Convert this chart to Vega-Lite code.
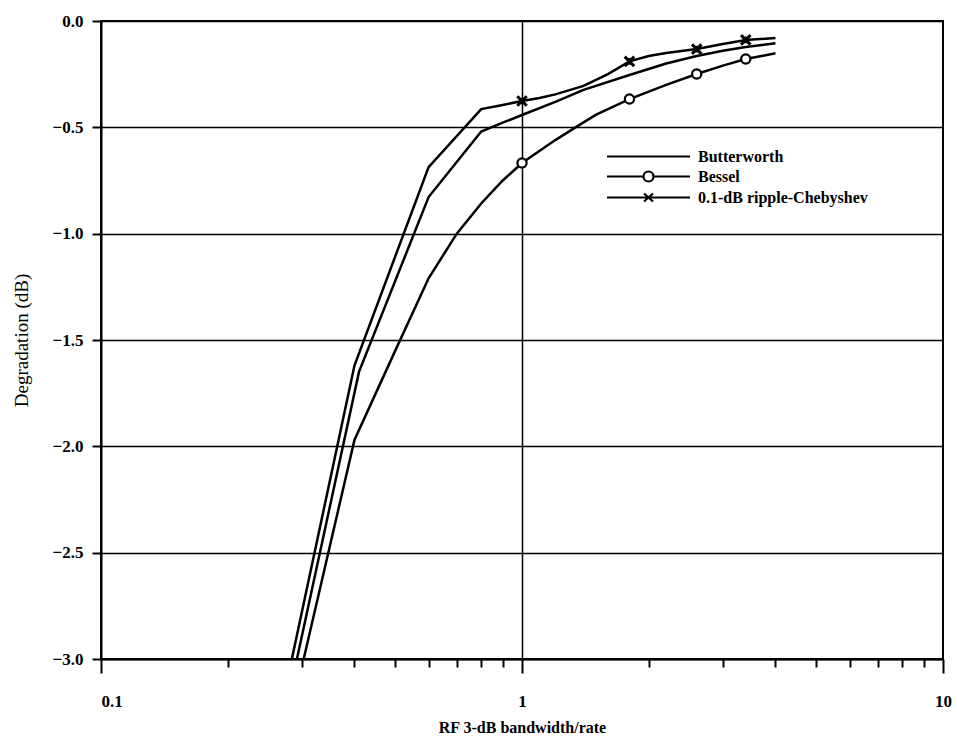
{
  "$schema": "https://vega.github.io/schema/vega-lite/v6.json",
  "width": 842,
  "height": 638,
  "autosize": {"type": "none"},
  "padding": {"left": 101, "top": 21, "right": 14, "bottom": 83},
  "background": "white",
  "datasets": {
    "curves": [
      {"series": "Butterworth", "x": 0.292, "y": -3.0},
      {"series": "Butterworth", "x": 0.41, "y": -1.65},
      {"series": "Butterworth", "x": 0.6, "y": -0.828},
      {"series": "Butterworth", "x": 0.8, "y": -0.52},
      {"series": "Butterworth", "x": 0.9, "y": -0.478},
      {"series": "Butterworth", "x": 1.0, "y": -0.442},
      {"series": "Butterworth", "x": 1.2, "y": -0.38},
      {"series": "Butterworth", "x": 1.4, "y": -0.324},
      {"series": "Butterworth", "x": 1.8, "y": -0.254},
      {"series": "Butterworth", "x": 2.2, "y": -0.2},
      {"series": "Butterworth", "x": 2.6, "y": -0.165},
      {"series": "Butterworth", "x": 3.0, "y": -0.14},
      {"series": "Butterworth", "x": 3.4, "y": -0.122},
      {"series": "Butterworth", "x": 4.0, "y": -0.105},
      {"series": "Bessel", "x": 0.303, "y": -3.0},
      {"series": "Bessel", "x": 0.4, "y": -1.97},
      {"series": "Bessel", "x": 0.5, "y": -1.55},
      {"series": "Bessel", "x": 0.6, "y": -1.21},
      {"series": "Bessel", "x": 0.7, "y": -1.0},
      {"series": "Bessel", "x": 0.8, "y": -0.858},
      {"series": "Bessel", "x": 0.9, "y": -0.75},
      {"series": "Bessel", "x": 1.0, "y": -0.668},
      {"series": "Bessel", "x": 1.2, "y": -0.56},
      {"series": "Bessel", "x": 1.34, "y": -0.5},
      {"series": "Bessel", "x": 1.5, "y": -0.44},
      {"series": "Bessel", "x": 1.8, "y": -0.367},
      {"series": "Bessel", "x": 2.2, "y": -0.3},
      {"series": "Bessel", "x": 2.6, "y": -0.249},
      {"series": "Bessel", "x": 3.0, "y": -0.21},
      {"series": "Bessel", "x": 3.4, "y": -0.179},
      {"series": "Bessel", "x": 4.0, "y": -0.152},
      {"series": "0.1-dB ripple-Chebyshev", "x": 0.284, "y": -3.0},
      {"series": "0.1-dB ripple-Chebyshev", "x": 0.4, "y": -1.62},
      {"series": "0.1-dB ripple-Chebyshev", "x": 0.6, "y": -0.687},
      {"series": "0.1-dB ripple-Chebyshev", "x": 0.8, "y": -0.414},
      {"series": "0.1-dB ripple-Chebyshev", "x": 0.9, "y": -0.395},
      {"series": "0.1-dB ripple-Chebyshev", "x": 1.0, "y": -0.376},
      {"series": "0.1-dB ripple-Chebyshev", "x": 1.1, "y": -0.362},
      {"series": "0.1-dB ripple-Chebyshev", "x": 1.2, "y": -0.345},
      {"series": "0.1-dB ripple-Chebyshev", "x": 1.4, "y": -0.305},
      {"series": "0.1-dB ripple-Chebyshev", "x": 1.6, "y": -0.25},
      {"series": "0.1-dB ripple-Chebyshev", "x": 1.8, "y": -0.19},
      {"series": "0.1-dB ripple-Chebyshev", "x": 2.0, "y": -0.165},
      {"series": "0.1-dB ripple-Chebyshev", "x": 2.2, "y": -0.15},
      {"series": "0.1-dB ripple-Chebyshev", "x": 2.6, "y": -0.132},
      {"series": "0.1-dB ripple-Chebyshev", "x": 3.0, "y": -0.108},
      {"series": "0.1-dB ripple-Chebyshev", "x": 3.4, "y": -0.089},
      {"series": "0.1-dB ripple-Chebyshev", "x": 4.0, "y": -0.08}
    ]
  },
  "data": {"name": "curves"},
  "encoding": {
    "x": {
      "field": "x",
      "type": "quantitative",
      "scale": {"type": "log", "domain": [0.1, 10], "nice": false},
      "axis": {
        "title": "RF 3-dB bandwidth/rate",
        "values": [0.1, 0.2, 0.3, 0.4, 0.5, 0.6, 0.7, 0.8, 0.9, 1, 2, 3, 4, 5, 6, 7, 8, 9, 10],
        "labelExpr": "datum.value == 0.1 ? '0.1' : datum.value == 1 ? '1' : datum.value == 10 ? '10' : ''",
        "labelOverlap": false,
        "labelFlush": false,
        "labelAlign": {"condition": {"test": "datum.value == 0.1", "value": "left"}, "value": "center"},
        "tickSize": {"condition": {"test": "datum.value == 0.1 || datum.value == 1 || datum.value == 10", "value": 14}, "value": 8},
        "labelPadding": 20,
        "labelFontSize": 17,
        "labelFontWeight": "bold",
        "titleFontSize": 16,
        "titleFontWeight": "bold",
        "titlePadding": 10,
        "grid": true,
        "gridOpacity": {"condition": {"test": "datum.value == 1", "value": 1}, "value": 0}
      }
    },
    "y": {
      "field": "y",
      "type": "quantitative",
      "scale": {"domain": [-3, 0], "nice": false},
      "axis": {
        "title": "Degradation (dB)",
        "values": [-3, -2.5, -2, -1.5, -1, -0.5, 0],
        "format": ".1f",
        "tickSize": 9,
        "labelPadding": 9,
        "labelFontSize": 17,
        "labelFontWeight": "bold",
        "titleFontSize": 19,
        "titleFontWeight": "normal",
        "titleX": -80,
        "titleY": 319,
        "titleBaseline": "middle",
        "grid": true
      }
    }
  },
  "layer": [
    {
      "mark": {"type": "line", "color": "black", "strokeWidth": 2.5},
      "encoding": {"detail": {"field": "series"}}
    },
    {
      "transform": [{"filter": "datum.series == 'Bessel' && (datum.x == 1 || datum.x == 1.8 || datum.x == 2.6 || datum.x == 3.4)"}],
      "mark": {"type": "point", "shape": "circle", "size": 85, "filled": false, "fill": "white", "fillOpacity": 1, "stroke": "black", "strokeWidth": 2.2, "opacity": 1}
    },
    {
      "transform": [{"filter": "datum.series == '0.1-dB ripple-Chebyshev' && (datum.x == 1 || datum.x == 1.8 || datum.x == 2.6 || datum.x == 3.4)"}],
      "mark": {"type": "point", "shape": "M-1,-1L1,1M-1,1L1,-1M0,-0.7L0,0.7", "size": 90, "filled": false, "stroke": "black", "strokeWidth": 3, "opacity": 1}
    },
    {
      "mark": {"type": "point", "opacity": 0, "size": 400},
      "encoding": {
        "shape": {
          "field": "series",
          "type": "nominal",
          "scale": {
            "domain": ["Butterworth", "Bessel", "0.1-dB ripple-Chebyshev"],
            "range": [
              "M-4.15,0L4.15,0",
              "M-4.15,0L-0.5,0M0.5,0L4.15,0M-0.5,0A0.5,0.5,0,1,1,0.5,0A0.5,0.5,0,1,1,-0.5,0",
              "M-4.15,0L4.15,0M-0.45,-0.4L0.45,0.4M-0.45,0.4L0.45,-0.4"
            ]
          },
          "legend": {
            "title": null,
            "orient": "none",
            "legendX": 536,
            "legendY": 124,
            "padding": 0,
            "symbolSize": 400,
            "symbolStrokeColor": "black",
            "symbolFillColor": "white",
            "symbolStrokeWidth": 2.2,
            "symbolOpacity": 1,
            "labelFont": "Liberation Serif",
            "labelFontSize": 16,
            "labelFontWeight": "bold",
            "labelColor": "black",
            "labelOffset": 38,
            "labelLimit": 0,
            "rowPadding": -1
          }
        }
      }
    }
  ],
  "config": {
    "view": {"stroke": "black", "strokeWidth": 2},
    "axis": {
      "domainColor": "black",
      "domainWidth": 2,
      "tickColor": "black",
      "tickWidth": 2,
      "labelColor": "black",
      "titleColor": "black",
      "labelFont": "Liberation Serif",
      "titleFont": "Liberation Serif",
      "gridColor": "black",
      "gridWidth": 1.5
    }
  }
}
